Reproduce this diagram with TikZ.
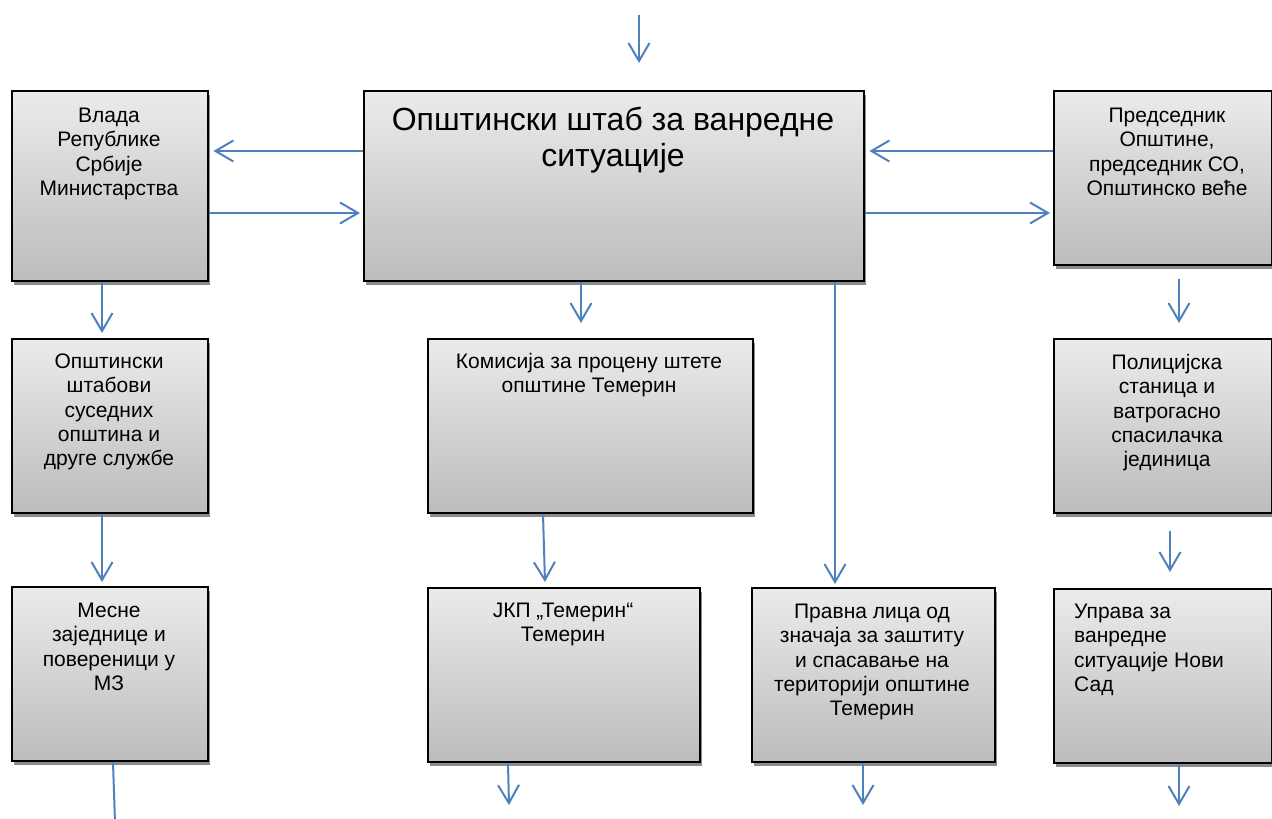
\documentclass[tikz,border=0pt]{standalone}
\usepackage{fontspec}
\setmainfont{Liberation Sans}
\usetikzlibrary{arrows.meta,shadows,calc}
\definecolor{arrblue}{HTML}{4F81BD}
\definecolor{boxtop}{HTML}{EBEBEB}
\definecolor{boxbot}{HTML}{BCBCBC}
\newcommand\txtS{\fontsize{21pt}{24.4pt}\selectfont}
\newcommand\txtL{\fontsize{32pt}{36.7pt}\selectfont}
\begin{document}
\begin{tikzpicture}[x=1pt,y=-1pt,
  box/.style={draw=black, line width=2.4pt, top color=boxtop, bottom color=boxbot,
    anchor=north west, inner sep=0pt,
    drop shadow={shadow xshift=1.5pt, shadow yshift=-4pt, fill=black!45, opacity=1}},
  txt/.style={inner sep=0pt, align=center, font=\txtS, anchor=north},
  arr/.style={draw=arrblue, line width=2pt, -{Straight Barb[length=18pt,width=21pt]}},
  plain/.style={draw=arrblue, line width=2pt}]
\useasboundingbox (0,0) rectangle (1272,819);

% boxes
\node[box, minimum width=196pt, minimum height=190pt] (vlada) at (11,90) {};
\node[box, minimum width=500pt, minimum height=190pt] (main) at (363,90) {};
\node[box, minimum width=218pt, minimum height=174pt] (pred) at (1053,90) {};
\node[box, minimum width=196pt, minimum height=174pt] (shtab) at (11,338) {};
\node[box, minimum width=325pt, minimum height=174pt] (komis) at (427,338) {};
\node[box, minimum width=218pt, minimum height=174pt] (polic) at (1053,338) {};
\node[box, minimum width=196pt, minimum height=174pt] (mesne) at (11,586) {};
\node[box, minimum width=272pt, minimum height=174pt] (jkp) at (427,587) {};
\node[box, minimum width=243pt, minimum height=174pt] (pravna) at (751,587) {};
\node[box, minimum width=218pt, minimum height=174pt] (upr) at (1053,588) {};

% texts
\node[txt] (vlada-t) at (109,105) {\strut Влада\\Републике\\Србије\\Министарства};
\node[txt, font=\txtL] (main-t) at (613,104.3) {\strut Општински штаб за ванредне\\ситуације};
\node[txt] (pred-t) at (1167,105) {\strut Председник\\Општине,\\председник СО,\\Општинско веће};
\node[txt] (shtab-t) at (109,351) {\strut Општински\\штабови\\суседних\\општина и\\друге службе};
\node[txt] (komis-t) at (589,351) {\strut Комисија за процену штете\\општине Темерин};
\node[txt] (polic-t) at (1167,352) {\strut Полицијска\\станица и\\ватрогасно\\спасилачка\\јединица};
\node[txt] (mesne-t) at (109,600) {\strut Месне\\заједнице и\\повереници у\\МЗ};
\node[txt] (jkp-t) at (563,600) {\strut ЈКП „Темерин“\\Темерин};
\node[txt] (pravna-t) at (872,601) {\strut Правна лица од\\значаја за заштиту\\и спасавање на\\територији општине\\Темерин};
\node[txt, anchor=north west, align=left] (upr-t) at (1074,601) {\strut Управа за\\ванредне\\ситуације Нови\\Сад};

% free ends
\coordinate (topA) at (639,15);
\coordinate (topB) at (639,63);
\coordinate (mesneEnd) at (115,822);
\coordinate (jkpEnd) at (509,805);
\coordinate (pravnaEnd) at (863,805);
\coordinate (uprEnd) at (1179,806);

% connectors
\draw[arr] (topA) -- (topB);
\draw[arr] (main.west |- 0,151) -- ([xshift=4pt]vlada.east |- 0,151);
\draw[arr] (vlada.east |- 0,213) -- ([xshift=-3pt]main.west |- 0,213);
\draw[arr] (pred.west |- 0,151) -- ([xshift=4pt]main.east |- 0,151);
\draw[arr] (main.east |- 0,213) -- ([xshift=-3pt]pred.west |- 0,213);
\draw[arr] (vlada.south -| 102,0) -- ([yshift=5pt]shtab.north -| 102,0);
\draw[arr] (main.south -| 581,0) -- ([yshift=15pt]komis.north -| 581,0);
\draw[arr] ([yshift=-13pt]pred.south -| 1179,0) -- ([yshift=15pt]polic.north -| 1179,0);
\draw[arr] (main.south -| 835,0) -- ([yshift=3pt]pravna.north -| 835,0);
\draw[arr] (shtab.south -| 102,0) -- ([yshift=4pt]mesne.north -| 102,0);
\draw[arr] (komis.south -| 543,0) -- ([yshift=5pt]jkp.north -| 545,0);
\draw[arr] ([yshift=-17pt]polic.south -| 1170,0) -- ([yshift=16pt]upr.north -| 1170,0);
\draw[plain] (mesne.south -| 113,0) -- (mesneEnd);
\draw[arr] (jkp.south -| 508,0) -- (jkpEnd);
\draw[arr] (pravna.south -| 863,0) -- (pravnaEnd);
\draw[arr] (upr.south -| 1179,0) -- (uprEnd);
\end{tikzpicture}
\end{document}
